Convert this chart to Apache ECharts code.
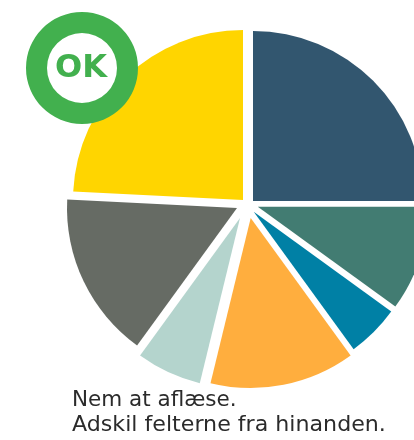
<!DOCTYPE html>
<html>
<head>
<meta charset="utf-8">
<style>html,body{margin:0;padding:0;background:#fff}#c{width:414px;height:440px}</style>
<script src="https://cdn.jsdelivr.net/npm/echarts@6/dist/echarts.min.js"></script>
</head>
<body>
<div id="c"></div>
<script>
const values = [25, 10, 5, 13.8, 6.2, 15.8, 24.2];
const colors = ['#32566f', '#427c72', '#0080a5', '#ffae3e', '#b4d4cd', '#666b64', '#ffd500'];
const apexes = [[253,201],[257.8,206.7],[253.7,211.7],[250.7,218],[240,218],[237,208],[243,200]];
const captionLines = ['Nem at aflæse.', 'Adskil felterne fra hinanden.'];
const badgeText = 'OK';

const total = values.reduce((a, b) => a + b, 0);
let acc = 0;
const series = values.map((v, i) => {
  const start = acc / total * 360;
  acc += v;
  return {
    type: 'pie',
    silent: true,
    animation: false,
    radius: [0, 170],
    center: apexes[i],
    startAngle: 90 - start,
    clockwise: true,
    avoidLabelOverlap: false,
    label: { show: false },
    labelLine: { show: false },
    data: [
      { value: v, itemStyle: { color: colors[i] } },
      { value: total - v, itemStyle: { color: 'transparent' } }
    ]
  };
});

const chart = echarts.init(document.getElementById('c'), null, { renderer: 'canvas', width: 414, height: 440 });
chart.setOption({
  animation: false,
  backgroundColor: '#ffffff',
  tooltip: { show: false },
  series,
  graphic: [
    { type: 'ring', z: 100, shape: { cx: 82, cy: 68, r: 56, r0: 35 }, style: { fill: '#42b04e' } },
    { type: 'circle', z: 99, shape: { cx: 82, cy: 68, r: 36 }, style: { fill: '#ffffff' } },
    { type: 'text', z: 101, x: 81, y: 69, style: { text: badgeText, fill: '#42b04e', font: 'bold 32px "DejaVu Sans"', align: 'center', verticalAlign: 'middle' } },
    { type: 'text', z: 101, x: 72, y: 400, style: { text: captionLines[0], fill: '#2b2b2b', font: '21.5px "DejaVu Sans"', align: 'left', verticalAlign: 'middle' } },
    { type: 'text', z: 101, x: 72, y: 425, scaleX: 1.03, originX: 0, originY: 0, style: { text: captionLines[1], fill: '#2b2b2b', font: '21.5px "DejaVu Sans"', align: 'left', verticalAlign: 'middle' } }
  ]
});
</script>
</body>
</html>
